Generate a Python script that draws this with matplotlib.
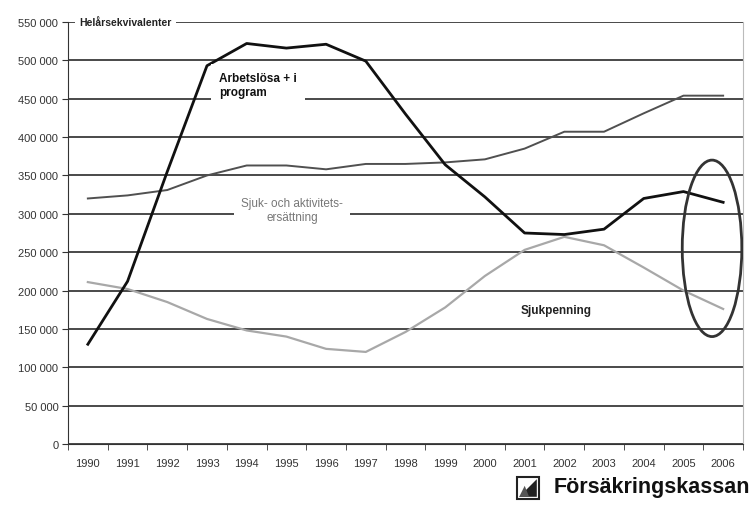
import matplotlib
matplotlib.use("Agg")
import matplotlib.pyplot as plt
from matplotlib.patches import Ellipse, Rectangle, Polygon
from matplotlib.ticker import FuncFormatter, FixedLocator

plt.rcParams['font.family'] = ['Liberation Sans', 'DejaVu Sans']

years = ["1990", "1991", "1992", "1993", "1994", "1995", "1996", "1997", "1998",
         "1999", "2000", "2001", "2002", "2003", "2004", "2005", "2006"]
arbetslosa = [130000, 212000, 355000, 493000, 522000, 516000, 521000, 499000, 430000,
              364000, 322000, 275000, 273000, 280000, 320000, 329000, 315000]
sjuk_akt = [320000, 324000, 331000, 350000, 363000, 363000, 358000, 365000, 365000,
            367000, 371000, 385000, 407000, 407000, 431000, 454000, 454000]
sjukpenning = [211000, 202000, 185000, 163000, 148000, 140000, 124000, 120000, 146000,
               178000, 219000, 253000, 270000, 259000, 230000, 200000, 176000]

fig = plt.figure(figsize=(7.52, 5.10), dpi=100)
ax = fig.add_axes([68/752, 1-445/510, (743-68)/752, (445-23)/510])

x = list(range(len(years)))
ax.set_xlim(-0.5, len(years)-0.5)
ax.set_ylim(0, 550000)

ax.yaxis.set_major_locator(FixedLocator(range(0, 550001, 50000)))
ax.yaxis.set_major_formatter(FuncFormatter(lambda v, p: f"{int(v):,}".replace(",", " ")))
ax.grid(axis="y", color="#3a3a3a", lw=1.3, zorder=1)
ax.set_axisbelow(True)

ax.set_xticks(x)
ax.set_xticklabels(years)
ax.set_xticks([i - 0.5 for i in range(len(years)+1)], minor=True)
ax.tick_params(axis="x", which="major", length=0, pad=10, labelsize=8, colors="#333333")
ax.tick_params(axis="x", which="minor", length=4, color="#333333", direction="out")
ax.tick_params(axis="y", length=4, color="#333333", labelsize=8, labelcolor="#333333", pad=3)

ax.spines["top"].set_visible(False)
ax.spines["right"].set_color("#bbbbbb")
ax.spines["right"].set_linewidth(0.8)
ax.spines["left"].set_color("#333333")
ax.spines["bottom"].set_color("#333333")

ax.plot(x, sjukpenning, color="#a8a8a8", lw=1.6, zorder=3)
ax.plot(x, sjuk_akt, color="#505050", lw=1.4, zorder=3)
ax.plot(x, arbetslosa, color="#111111", lw=2.0, zorder=4)

bbox_w = dict(facecolor="white", edgecolor="none", pad=3)
ax.text(-0.22, 550000, "Helårsekvivalenter", ha="left", va="center", fontsize=7.5,
        fontweight="bold", color="#222222", bbox=bbox_w, zorder=5)
ax.text(3.3, 468000, "Arbetslösa + i\nprogram", ha="left", va="center", fontsize=8.5,
        fontweight="bold", color="#111111", bbox=dict(facecolor="white", edgecolor="none", pad=6),
        zorder=5, linespacing=1.2)
ax.text(5.15, 305000, "Sjuk- och aktivitets-\nersättning", ha="center", va="center", fontsize=8.5,
        color="#777777", bbox=dict(facecolor="white", edgecolor="none", pad=5), zorder=5,
        linespacing=1.2)
ax.text(11.8, 175000, "Sjukpenning", ha="center", va="center", fontsize=8.5,
        fontweight="bold", color="#222222", zorder=5)

ell = Ellipse((15.72, 255000), 1.5, 230000, fill=False, edgecolor="#333333", lw=2.0, zorder=6)
ax.add_patch(ell)

# logo
fig.text(750/752, 1-488/510, "Försäkringskassan", fontsize=15.5, fontweight="bold",
         color="#111111", ha="right", va="center")
lx, ly, lw_, lh = 517/752, 1-500/510, 22/752, 22/510
fig.patches.append(Rectangle((lx, ly), lw_, lh, transform=fig.transFigure, facecolor="white",
                             edgecolor="#222222", lw=1.5))
fig.patches.append(Polygon([(lx+lw_*0.1, ly+lh*0.1), (lx+lw_*0.9, ly+lh*0.9), (lx+lw_*0.9, ly+lh*0.1)],
                           closed=True, transform=fig.transFigure, facecolor="#222222", edgecolor="none"))
fig.patches.append(Polygon([(lx+lw_*0.1, ly+lh*0.1), (lx+lw_*0.35, ly+lh*0.6), (lx+lw_*0.55, ly+lh*0.1)],
                           closed=True, transform=fig.transFigure, facecolor="#555555", edgecolor="none"))

fig.savefig("out.png", dpi=100)
